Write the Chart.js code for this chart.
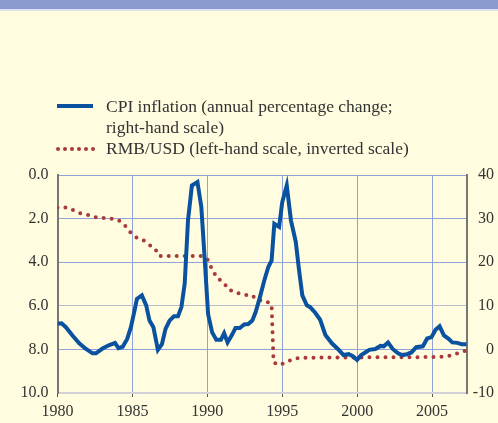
<!DOCTYPE html>
<html>
<head>
<meta charset="utf-8">
<script src="https://cdn.jsdelivr.net/npm/chart.js@4/dist/chart.umd.min.js"></script>
<style>
  html, body { margin: 0; padding: 0; background: #fffcdf; }
  #wrap { position: relative; width: 498px; height: 423px; overflow: hidden; }
  #band { position: absolute; left: 0; top: 0; width: 498px; height: 9px; background: #8a9bd0; border-bottom: 2px solid #dfe1ee; }
  canvas { position: absolute; left: 0; top: 0; }
</style>
</head>
<body>
<div id="wrap">
  <div id="band"></div>
  <canvas id="cpiRmbChart" width="498" height="423"></canvas>
</div>
<script>
// CPI inflation, annual % change (right-hand scale)
const cpiYears = [1980, 1980.27, 1980.56, 1981.0, 1981.45, 1981.9, 1982.34, 1982.57, 1983.0, 1983.46,
  1983.84, 1984.07, 1984.35, 1984.65, 1984.9, 1985.14, 1985.3, 1985.63, 1985.92, 1986.14,
  1986.4, 1986.7, 1986.97, 1987.21, 1987.48, 1987.77, 1988.04, 1988.27, 1988.49, 1988.71,
  1988.97, 1989.34, 1989.6, 1989.83, 1990.05, 1990.32, 1990.6, 1990.9, 1991.12, 1991.35,
  1991.61, 1991.88, 1992.17, 1992.46, 1992.73, 1993.0, 1993.22, 1993.51, 1993.8, 1994.07,
  1994.29, 1994.47, 1994.79, 1995.0, 1995.3, 1995.58, 1995.9, 1996.12, 1996.34, 1996.64,
  1996.86, 1997.2, 1997.53, 1997.88, 1998.31, 1998.71, 1999.09, 1999.43, 1999.69, 1999.99,
  2000.27, 2000.54, 2000.81, 2001.21, 2001.55, 2001.77, 2002.06, 2002.37, 2002.73, 2003.0,
  2003.33, 2003.62, 2003.94, 2004.38, 2004.67, 2004.96, 2005.23, 2005.5, 2005.79, 2006.08,
  2006.35, 2006.69, 2006.97, 2007.3];
const cpiValues = [5.9, 6.0, 5.1, 3.2, 1.4, 0.1, -0.9, -0.9, 0.2, 1.0,
  1.5, 0.3, 0.6, 2.4, 5.1, 8.9, 11.6, 12.4, 10.1, 6.6,
  5.1, -0.1, 1.2, 4.7, 6.6, 7.6, 7.6, 9.7, 15.1, 29.6,
  37.6, 38.4, 32.6, 20.4, 8.1, 3.9, 2.2, 2.2, 3.7, 1.6,
  3.1, 4.9, 4.9, 5.7, 5.8, 6.6, 8.5, 12.0, 15.8, 18.9,
  20.4, 28.8, 28.1, 33.8, 37.6, 29.6, 24.7, 18.2, 12.4, 10.1,
  9.7, 8.4, 6.8, 3.3, 1.4, 0.1, -1.3, -1.1, -1.5, -2.4,
  -1.3, -0.7, -0.1, 0.1, 0.8, 0.7, 1.6, 0.1, -0.9, -1.3,
  -1.1, -0.7, 0.5, 0.7, 2.5, 2.8, 4.5, 5.3, 3.2, 2.5,
  1.6, 1.5, 1.2, 1.2];

// RMB per USD (left-hand scale, inverted)
const rmbYears = [1980, 1980.45, 1981.0, 1981.45, 1981.97, 1982.5, 1983.04, 1983.6, 1984.1, 1984.5,
  1984.87, 1985.25, 1985.74, 1986.14, 1986.52, 1986.77, 1989.6, 1990.0, 1990.23, 1990.65,
  1991.1, 1991.39, 1991.88, 1992.44, 1992.95, 1993.36, 1993.89, 1994.29, 1994.42, 1994.85,
  1995.3, 1995.86, 1996.4, 2005.5, 2006.3, 2006.8, 2007.33];
const rmbValues = [1.5, 1.47, 1.6, 1.75, 1.82, 1.93, 1.97, 2.0, 2.09, 2.32,
  2.64, 2.86, 3.0, 3.21, 3.39, 3.72, 3.72, 3.85, 4.2, 4.73,
  4.93, 5.24, 5.39, 5.5, 5.5, 5.74, 5.77, 5.96, 8.6, 8.72,
  8.57, 8.42, 8.38, 8.35, 8.28, 8.15, 8.04];

const leftTicks = [0, 2, 4, 6, 8, 10];
const rightTicks = [-10, 0, 10, 20, 30, 40];
const yearTicks = [1980, 1985, 1990, 1995, 2000, 2005];

const legendLines = [
  ['CPI inflation (annual percentage change;', 'right-hand scale)'],
  ['RMB/USD (left-hand scale, inverted scale)']
];

const blue = '#0a52a0';
const red = '#a83a3a';
const gridBlue = '#8fa2da';
const serif = "'Liberation Serif', 'Times New Roman', serif";

const toPoints = (xs, ys) => xs.map((x, i) => ({ x: x, y: ys[i] }));

// legend drawn by hand so the long label can wrap like the original
const legendPlugin = {
  id: 'wrappedLegend',
  afterDraw(chart) {
    const ctx = chart.ctx;
    ctx.save();
    ctx.font = '17.5px ' + serif;
    ctx.textBaseline = 'middle';
    // solid sample
    ctx.strokeStyle = blue;
    ctx.lineWidth = 4;
    ctx.beginPath();
    ctx.moveTo(57, 106);
    ctx.lineTo(93, 106);
    ctx.stroke();
    // dotted sample
    ctx.fillStyle = red;
    for (let i = 0; i < 6; i++) {
      ctx.beginPath();
      ctx.arc(58 + i * 7, 149, 2, 0, Math.PI * 2);
      ctx.fill();
    }
    ctx.fillStyle = '#333';
    ctx.fillText(legendLines[0][0], 106, 107);
    ctx.fillText(legendLines[0][1], 106, 128);
    ctx.fillText(legendLines[1][0], 106, 149);
    ctx.restore();
  }
};

const ctx = document.getElementById('cpiRmbChart').getContext('2d');
new Chart(ctx, {
  type: 'line',
  data: {
    datasets: [{
      label: 'CPI inflation',
      data: toPoints(cpiYears, cpiValues),
      yAxisID: 'yRight',
      borderColor: blue,
      borderWidth: 4,
      borderJoinStyle: 'miter',
      pointRadius: 0,
      tension: 0,
      order: 1
    }, {
      label: 'RMB/USD',
      data: toPoints(rmbYears, rmbValues),
      yAxisID: 'yLeft',
      borderColor: red,
      borderWidth: 4,
      borderDash: [0, 8],
      borderCapStyle: 'round',
      pointRadius: 0,
      tension: 0,
      order: 2
    }]
  },
  options: {
    responsive: false,
    animation: false,
    events: [],
    layout: { padding: { top: 175, left: 0, right: 4, bottom: 0 } },
    plugins: { legend: { display: false }, tooltip: { enabled: false } },
    scales: {
      x: {
        type: 'linear',
        min: 1980,
        max: 2007.33,
        afterBuildTicks: (scale) => { scale.ticks = yearTicks.map(v => ({ value: v })); },
        afterFit: (scale) => { scale.height = 30; },
        grid: { color: gridBlue, lineWidth: 1, tickColor: '#555', tickLength: 4 },
        border: { color: '#d2d2d8', width: 2 },
        ticks: { font: { family: serif, size: 16 }, color: '#333', padding: 5, maxRotation: 0, callback: v => String(v) }
      },
      yLeft: {
        position: 'left',
        reverse: true,
        min: 0,
        max: 10,
        afterBuildTicks: (scale) => { scale.ticks = leftTicks.map(v => ({ value: v })); },
        afterFit: (scale) => { scale.width = 57.5; },
        grid: {
          drawTicks: false,
          color: (c) => c.tick && c.tick.value === 6 ? '#b8bccb' : (c.tick && c.tick.value === 10 ? '#d2d2d8' : gridBlue)
        },
        border: { color: '#777', width: 2 },
        ticks: { font: { family: serif, size: 16 }, color: '#333', padding: 9, callback: v => v.toFixed(1) }
      },
      yRight: {
        position: 'right',
        min: -10,
        max: 40,
        afterBuildTicks: (scale) => { scale.ticks = rightTicks.map(v => ({ value: v })); },
        afterFit: (scale) => { scale.width = 27; },
        grid: { display: false, drawTicks: false },
        border: { color: '#777', width: 2 },
        ticks: { font: { family: serif, size: 16 }, color: '#333', padding: 2, crossAlign: 'far', callback: v => String(v) }
      }
    }
  },
  plugins: [legendPlugin]
});
</script>
</body>
</html>
